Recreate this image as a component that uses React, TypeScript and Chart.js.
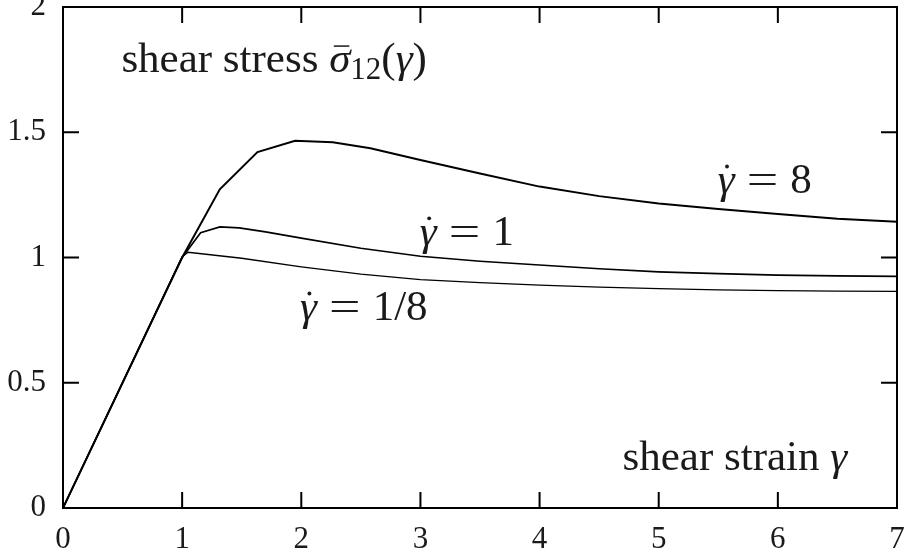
import React, { useEffect, useRef } from "react";
import { Chart, registerables } from "chart.js";

Chart.register(...registerables);

// ---- data ----
const rate8Strain = [0, 1, 1.316, 1.632, 1.948, 2.264, 2.58, 3, 3.5, 4, 4.5, 5, 5.5, 6, 6.5, 7];
const rate8Stress = [0, 1.0, 1.272, 1.421, 1.466, 1.46, 1.436, 1.389, 1.335, 1.283, 1.245, 1.216, 1.194, 1.174, 1.155, 1.143];

const rate1Strain = [0, 1, 1.155, 1.317, 1.479, 1.7, 2, 2.5, 3, 3.5, 4, 4.5, 5, 5.5, 6, 6.5, 7];
const rate1Stress = [0, 1.0, 1.099, 1.122, 1.118, 1.102, 1.077, 1.037, 1.005, 0.985, 0.97, 0.955, 0.943, 0.936, 0.93, 0.927, 0.925];

const rate8thStrain = [0, 1, 1.05, 1.5, 2, 2.5, 3, 3.5, 4, 4.5, 5, 5.5, 6, 6.5, 7];
const rate8thStress = [0, 1.003, 1.021, 0.997, 0.963, 0.934, 0.912, 0.9, 0.89, 0.882, 0.876, 0.871, 0.868, 0.866, 0.865];

const xTickValues = [0, 1, 2, 3, 4, 5, 6, 7];
const yTickValues = [0, 0.5, 1, 1.5, 2];
const xTickLabels = ["0", "1", "2", "3", "4", "5", "6", "7"];
const yTickLabels = ["0", "0.5", "1", "1.5", "2"];

// label anchor points in data coordinates (left edge, baseline)
const stressLabelPos = [0.49, 1.741];
const strainLabelPos = [4.696, 0.152];
const rate8LabelPos = [5.495, 1.257];
const rate1LabelPos = [2.995, 1.05];
const rate8thLabelPos = [1.99, 0.75];

const SERIF = '"Liberation Serif", "DejaVu Serif", serif';
const LABEL_SIZE = 43;
const TEXT_COLOR = "#1a1a1a";

function zip(xs: number[], ys: number[]) {
  return xs.map((x, i) => ({ x, y: ys[i] }));
}

type Seg = {
  t: string;
  size?: number;
  italic?: boolean;
  dy?: number;
  gap?: number;
  dot?: boolean;
  bar?: boolean;
  sx?: number;
};

function drawRich(ctx: CanvasRenderingContext2D, x0: number, y0: number, segs: Seg[]) {
  let x = x0;
  for (const s of segs) {
    const size = (s.size ?? 1) * LABEL_SIZE;
    x += (s.gap ?? 0) * LABEL_SIZE;
    ctx.font = `${s.italic ? "italic " : ""}${size}px ${SERIF}`;
    const y = y0 + (s.dy ?? 0) * LABEL_SIZE;
    const sx = s.sx ?? 1;
    const w0 = ctx.measureText(s.t).width;
    ctx.save();
    ctx.translate(x, y);
    ctx.scale(sx, 1);
    ctx.fillText(s.t, 0, 0);
    ctx.restore();
    const w = w0 * sx;
    if (s.dot) {
      ctx.beginPath();
      ctx.arc(x + w * 0.55, y - size * 0.62, size * 0.045, 0, Math.PI * 2);
      ctx.fill();
    }
    if (s.bar) {
      ctx.save();
      ctx.lineWidth = size * 0.035;
      ctx.beginPath();
      ctx.moveTo(x + w * 0.22, y - size * 0.6);
      ctx.lineTo(x + w * 0.95, y - size * 0.6);
      ctx.stroke();
      ctx.restore();
    }
    x += w;
  }
}

const framePlugin = {
  id: "frame",
  afterDatasetsDraw(chart: any) {
    const { ctx, chartArea: a, scales } = chart;
    const xs = scales.x;
    const ys = scales.y;
    ctx.save();
    ctx.strokeStyle = "#000";
    ctx.lineWidth = 2;
    ctx.strokeRect(a.left, a.top, a.right - a.left, a.bottom - a.top);
    ctx.beginPath();
    const TL = 16;
    for (const v of xTickValues) {
      const px = xs.getPixelForValue(v);
      if (v === xs.min || v === xs.max) continue;
      ctx.moveTo(px, a.bottom);
      ctx.lineTo(px, a.bottom - TL);
      ctx.moveTo(px, a.top);
      ctx.lineTo(px, a.top + TL);
    }
    for (const v of yTickValues) {
      const py = ys.getPixelForValue(v);
      if (v === ys.min || v === ys.max) continue;
      ctx.moveTo(a.left, py);
      ctx.lineTo(a.left + TL, py);
      ctx.moveTo(a.right, py);
      ctx.lineTo(a.right - TL, py);
    }
    ctx.stroke();

    // labels
    ctx.fillStyle = TEXT_COLOR;
    ctx.strokeStyle = TEXT_COLOR;
    ctx.textAlign = "left";
    ctx.textBaseline = "alphabetic";
    const P = (p: number[]) => [xs.getPixelForValue(p[0]), ys.getPixelForValue(p[1])];
    let [lx, ly] = P(stressLabelPos);
    drawRich(ctx, lx, ly, [
      { t: "shear stress " },
      { t: "σ", italic: true, bar: true },
      { t: "12", size: 0.72, dy: 0.16 },
      { t: "(" },
      { t: "γ", italic: true },
      { t: ")" },
    ]);
    [lx, ly] = P(strainLabelPos);
    drawRich(ctx, lx, ly, [{ t: "shear strain " }, { t: "γ", italic: true }]);
    const rateLabel = (value: string): Seg[] => [
      { t: "γ", italic: true, dot: true },
      { t: "=", gap: 0.28, sx: 1.3 },
      { t: value, gap: 0.28 },
    ];
    [lx, ly] = P(rate8LabelPos);
    drawRich(ctx, lx, ly, rateLabel("8"));
    [lx, ly] = P(rate1LabelPos);
    drawRich(ctx, lx, ly, rateLabel("1"));
    [lx, ly] = P(rate8thLabelPos);
    drawRich(ctx, lx, ly, rateLabel("1/8"));
    ctx.restore();
  },
};

export default function App() {
  const ref = useRef<HTMLCanvasElement | null>(null);
  useEffect(() => {
    if (!ref.current) return;
    const chart = new Chart(ref.current, {
      type: "scatter",
      data: {
        datasets: [
          { data: zip(rate8Strain, rate8Stress), borderColor: "#000", borderWidth: 2, showLine: true, pointRadius: 0, tension: 0 },
          { data: zip(rate1Strain, rate1Stress), borderColor: "#000", borderWidth: 1.7, showLine: true, pointRadius: 0, tension: 0 },
          { data: zip(rate8thStrain, rate8thStress), borderColor: "#000", borderWidth: 1.3, showLine: true, pointRadius: 0, tension: 0 },
        ],
      },
      options: {
        animation: false,
        responsive: false,
        layout: { padding: { left: 0, top: 7, right: 13, bottom: 0 } },
        plugins: { legend: { display: false }, tooltip: { enabled: false } },
        scales: {
          x: {
            type: "linear",
            min: 0,
            max: 7,
            afterBuildTicks: (s: any) => {
              s.ticks = xTickValues.map((v) => ({ value: v }));
            },
            afterFit: (s: any) => {
              s.height = 52;
              s.paddingLeft = 0;
              s.paddingRight = 0;
            },
            grid: { display: false, drawTicks: false },
            border: { display: false },
            ticks: {
              padding: 13,
              color: TEXT_COLOR,
              font: { family: SERIF, size: 31 },
              maxRotation: 0,
              callback: (v: any) => xTickLabels[xTickValues.indexOf(Number(v))] ?? "",
            },
          },
          y: {
            type: "linear",
            min: 0,
            max: 2,
            afterBuildTicks: (s: any) => {
              s.ticks = yTickValues.map((v) => ({ value: v }));
            },
            afterFit: (s: any) => {
              s.width = 63;
              s.paddingTop = 0;
              s.paddingBottom = 0;
            },
            grid: { display: false, drawTicks: false },
            border: { display: false },
            ticks: {
              padding: 17,
              color: TEXT_COLOR,
              font: { family: SERIF, size: 31 },
              callback: (v: any) => yTickLabels[yTickValues.indexOf(Number(v))] ?? "",
            },
          },
        },
      },
      plugins: [framePlugin],
    });
    return () => chart.destroy();
  }, []);
  return (
    <div style={{ position: "fixed", left: 0, top: 0, width: 910, height: 560, background: "#fff" }}>
      <canvas ref={ref} width={910} height={560} style={{ display: "block" }} />
    </div>
  );
}
